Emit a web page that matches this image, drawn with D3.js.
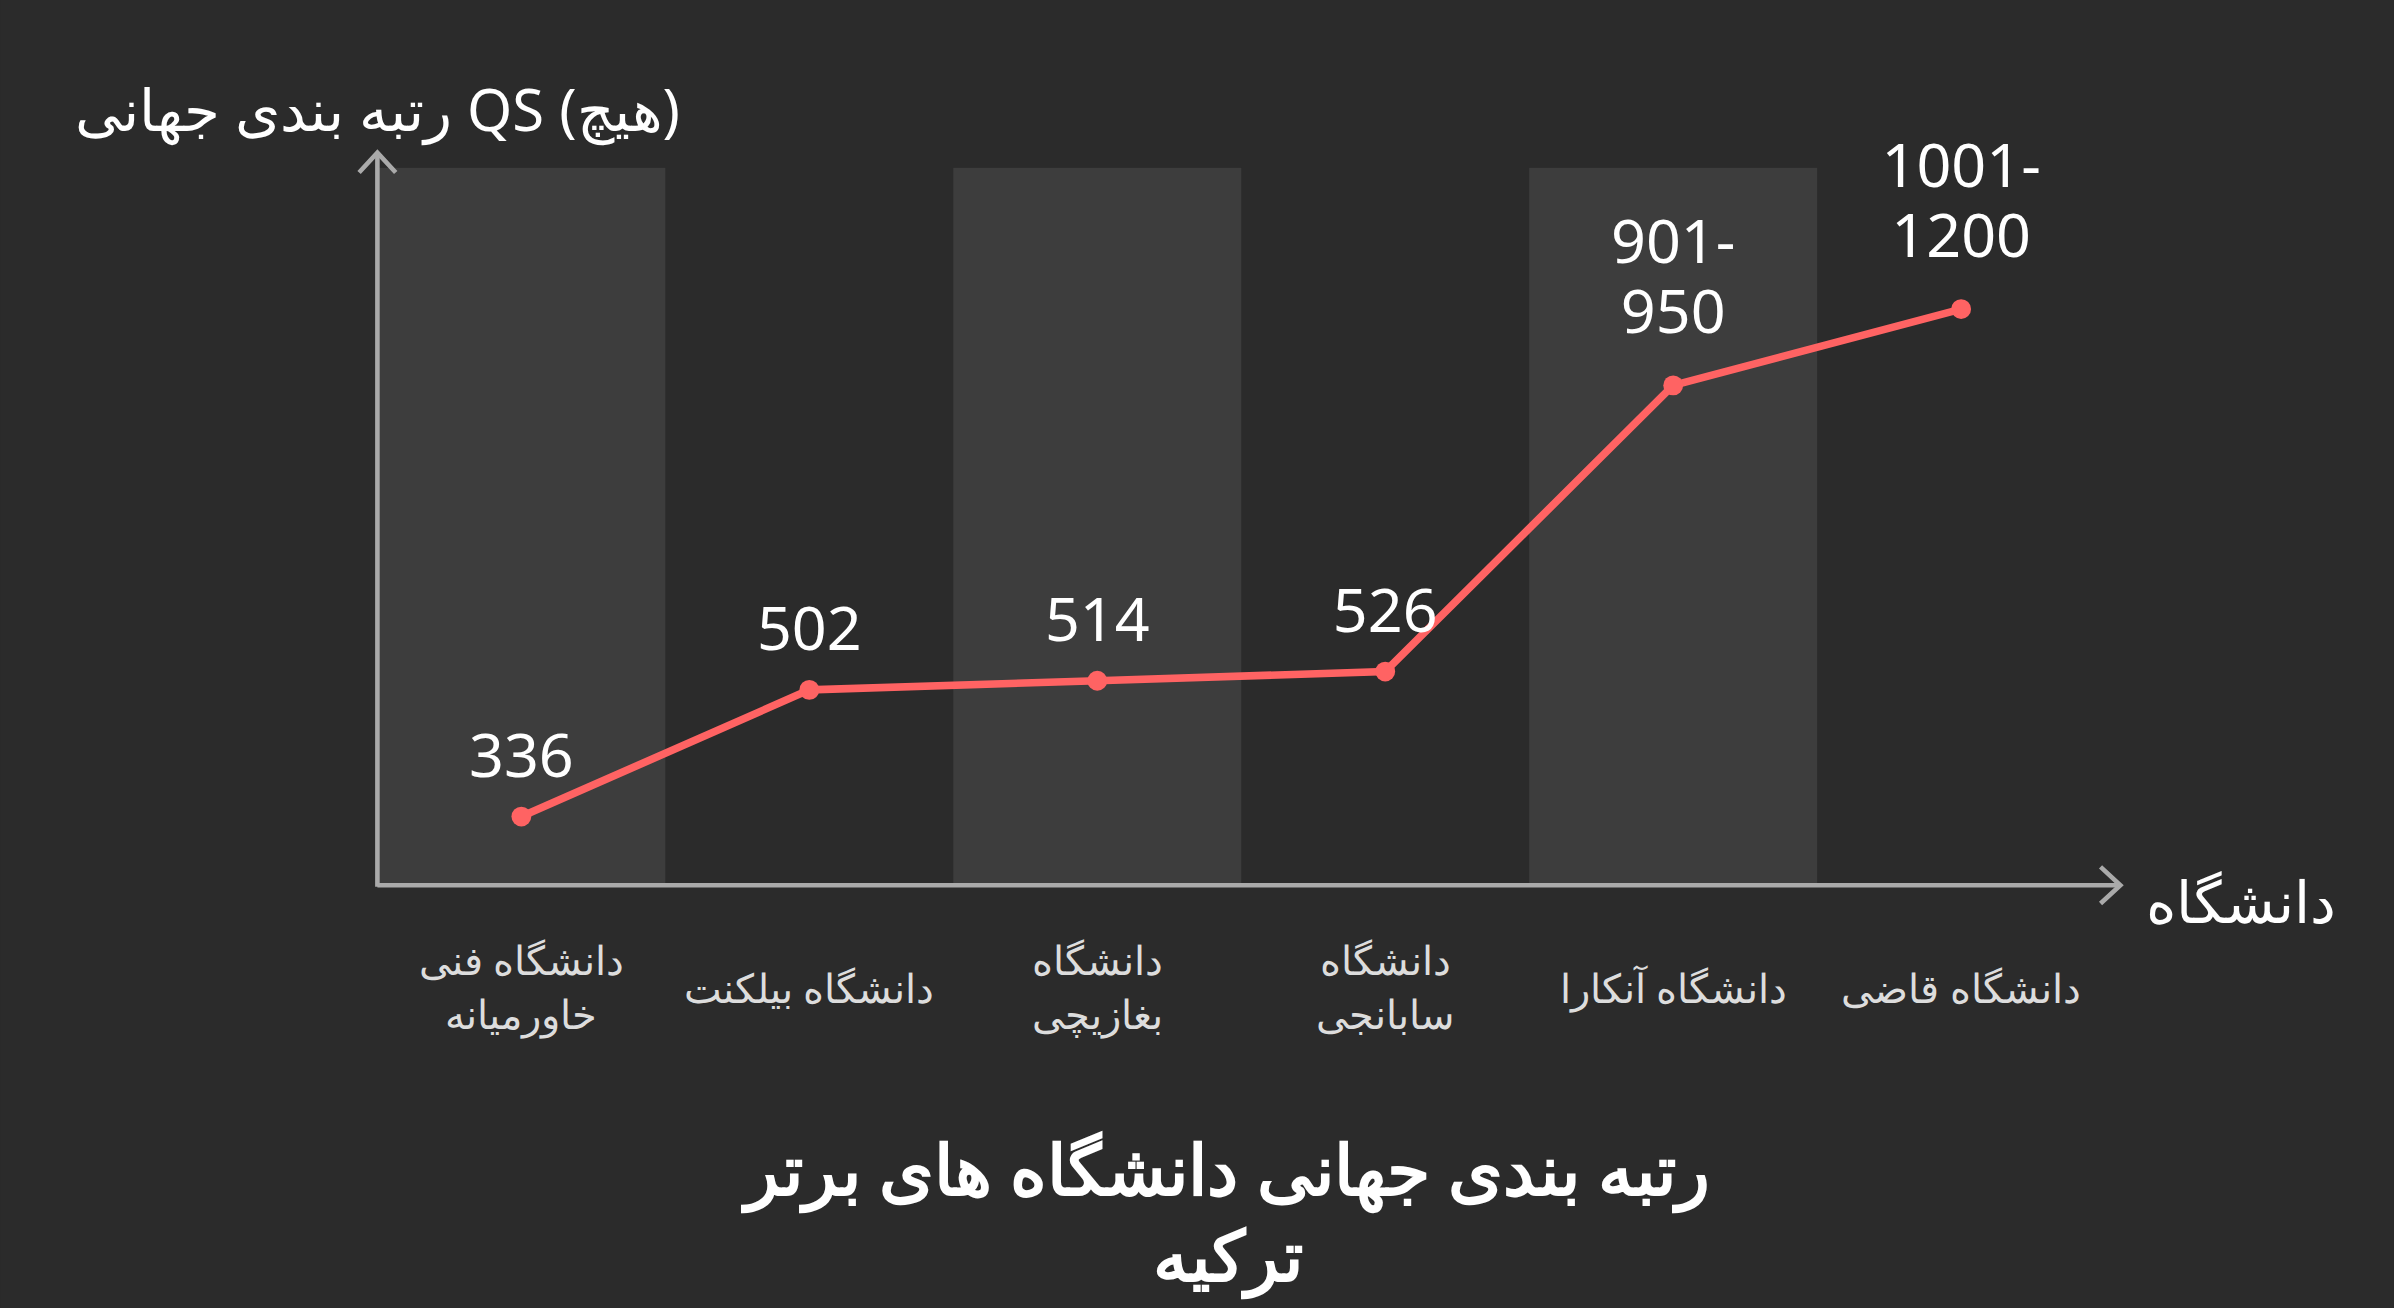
<!DOCTYPE html>
<html><head><meta charset="utf-8">
<script src="https://cdn.jsdelivr.net/npm/d3@7"></script>
<style>html,body{margin:0;padding:0;background:#2b2b2b;overflow:hidden}</style>
</head><body>
<script>
const categories = [["دانشگاه فنی","خاورمیانه"],["دانشگاه بیلکنت"],["دانشگاه","بغازیچی"],["دانشگاه","سابانجی"],["دانشگاه آنکارا"],["دانشگاه قاضی"]];
const values = [336, 502, 514, 526, 901, 1001];
const valueLabels = [["336"],["502"],["514"],["526"],["901-","950"],["1001-","1200"]];
const yTitle = "رتبه بندی جهانی QS (هیچ)";
const xTitle = "دانشگاه";
const titleLines = ["رتبه بندی جهانی دانشگاه های برتر","ترکیه"];

const W=1568,H=857;
const svg=d3.select("body").append("svg").attr("width",2394).attr("height",1308)
  .attr("viewBox",`0 0 ${W} ${H}`).style("font-family","'Noto Sans',sans-serif");
svg.append("rect").attr("width",W).attr("height",H).attr("fill","#2b2b2b");
const x=d3.scaleBand().domain(d3.range(categories.length)).range([247,1379]);
const y=d3.scaleLinear().domain([246,1186]).range([580,110]);
svg.selectAll("rect.band").data(d3.range(categories.length).filter(i=>i%2==0)).join("rect")
  .attr("x",i=>x(i)).attr("width",x.bandwidth()).attr("y",y(1186)).attr("height",y(246)-y(1186)).attr("fill","#3d3d3d");
const ax="#aaaaaa";
svg.append("line").attr("x1",247).attr("x2",1388).attr("y1",580).attr("y2",580).attr("stroke",ax).attr("stroke-width",3);
svg.append("line").attr("x1",247).attr("x2",247).attr("y1",581).attr("y2",100).attr("stroke",ax).attr("stroke-width",3);
svg.append("path").attr("d","M1376,568 L1389,580 L1376,592").attr("fill","none").attr("stroke",ax).attr("stroke-width",3);
svg.append("path").attr("d","M235,113 L247,100 L259,113").attr("fill","none").attr("stroke",ax).attr("stroke-width",3);
const cx=i=>x(i)+x.bandwidth()/2;
svg.append("path").datum(values).attr("d",d3.line().x((d,i)=>cx(i)).y(d=>y(d)))
  .attr("fill","none").attr("stroke","#ff6363").attr("stroke-width",5);
svg.selectAll("circle").data(values).join("circle").attr("cx",(d,i)=>cx(i)).attr("cy",d=>y(d)).attr("r",6.5).attr("fill","#ff6363");
values.forEach((v,i)=>{
  const L=valueLabels[i];
  const off = L.length>1 ? 34 : 26;
  L.forEach((t,j)=>{
    svg.append("text").attr("x",cx(i)).attr("y",y(v)-off-(L.length-1-j)*46).attr("text-anchor","middle")
      .attr("fill","#fff").attr("font-size",40).text(t);
  });
});
categories.forEach((c,i)=>{
  c.forEach((t,j)=>{
    const yy=c.length==1?657:639+j*35;
    svg.append("text").attr("x",cx(i)).attr("y",yy).attr("text-anchor","middle").attr("direction","rtl")
      .attr("fill","#dddddd").attr("font-size",26).text(t);
  });
});
svg.append("text").attr("x",247).attr("y",86).attr("text-anchor","middle").attr("fill","#fff").attr("font-size",38).text(yTitle);
svg.append("text").attr("x",1468).attr("y",605).attr("text-anchor","middle").attr("fill","#fff").attr("font-size",38).text(xTitle);
titleLines.forEach((t,j)=>svg.append("text").attr("x",804).attr("y",783+j*56).attr("text-anchor","middle")
  .attr("fill","#fff").attr("font-size",46).attr("font-weight","bold").attr("direction","rtl").text(t));
</script>
</body></html>
